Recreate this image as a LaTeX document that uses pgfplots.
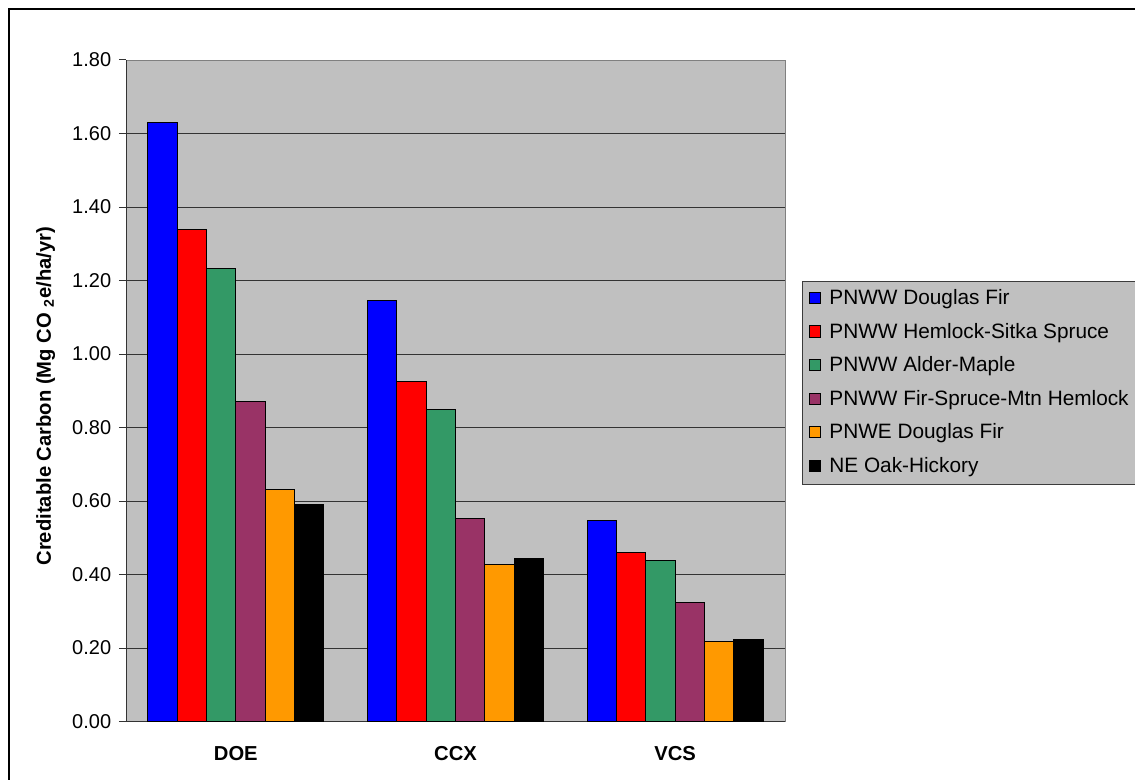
\documentclass[border=0pt]{standalone}
\usepackage{pgfplots}
\pgfplotsset{compat=1.18}
\usepackage{fontspec}
\setmainfont{Liberation Sans}

\definecolor{plotbg}{RGB}{192,192,192}
\definecolor{gridc}{RGB}{51,51,51}
\definecolor{borderc}{RGB}{128,128,128}
\definecolor{legendc}{RGB}{60,60,60}
\definecolor{sDF}{RGB}{0,0,255}
\definecolor{sHS}{RGB}{255,0,0}
\definecolor{sAM}{RGB}{51,153,102}
\definecolor{sFS}{RGB}{153,51,102}
\definecolor{sED}{RGB}{255,153,0}
\definecolor{sOH}{RGB}{0,0,0}

\newcommand\tickfont{\fontsize{10}{12}\selectfont}
\newcommand\labelfont{\fontsize{10.1}{12}\selectfont\bfseries}
\newcommand\legfont{\fontsize{10.4}{12.4}\selectfont}

\begin{document}
\begin{tikzpicture}
% page area and outer chart frame
\useasboundingbox (0pt,0pt) rectangle (567.5pt,-390pt);
\clip (0pt,0pt) rectangle (567.5pt,-390pt);
\draw[line width=0.7pt] (4.5pt,-4.5pt) rectangle (620pt,-420pt);

\begin{axis}[
  at={(63pt,-360.75pt)}, anchor=south west,
  scale only axis, width=329.5pt, height=330.75pt,
  xmin=-0.5, xmax=2.5, ymin=0, ymax=1.8,
  axis x line*=bottom, axis y line*=left,
  axis line style={gridc, line width=0.5pt},
  axis background/.style={fill=plotbg, draw=borderc, line width=0.4pt},
  tick align=outside,
  ytick={0,0.2,0.4,0.6,0.8,1.0,1.2,1.4,1.6,1.8},
  major tick length=3.5pt, minor tick length=3.5pt,
  tick style={gridc, line width=0.5pt},
  extra y ticks={0.2,0.4,0.6,0.8,1.0,1.2,1.4,1.6},
  extra y tick labels={},
  extra y tick style={grid=major, major tick length=0pt},
  major grid style={gridc, line width=0.5pt},
  /pgf/number format/.cd, fixed, fixed zerofill, precision=2, assume math mode=true,
  /pgfplots/.cd,
  yticklabel style={font=\tickfont, xshift=-0.4pt},
  xtick={0,1,2},
  xticklabels={DOE,CCX,VCS},
  xtick style={draw=none},
  minor xtick={-0.5,0.5,1.5,2.5},
  minor tick style={gridc, line width=0.5pt},
  xticklabel style={font=\labelfont, yshift=-5.5pt},
  ylabel={Creditable Carbon (Mg CO \textsubscript{2}e/ha/yr)},
  every axis y label/.style={at={(axis description cs:-0.122,0.492)}, rotate=90, anchor=center, font=\labelfont},
  ybar, bar width=0.13333,
  every axis plot/.append style={draw=black, line width=0.5pt},
  legend style={
    at={(axis description cs:1.0253,0.666)}, anchor=north west,
    fill=plotbg, draw=legendc, line width=0.5pt,
    font=\legfont,
    inner xsep=3.5pt, inner ysep=2.75pt,
    row sep=4.9pt,
    cells={anchor=west},
    nodes={inner sep=1pt, text height=7.8pt, text depth=2.1pt},
    /tikz/every odd column/.append style={column sep=3pt},
  },
  legend image code/.code={\draw[#1, line width=0.5pt] (0pt,-2.3pt) rectangle (5.6pt,3.3pt);},
  legend cell align=left,
]
\addplot[fill=sDF, bar shift=-0.33333] coordinates {(0,1.630) (1,1.145) (2,0.546)};
\addplot[fill=sHS, bar shift=-0.2]     coordinates {(0,1.340) (1,0.924) (2,0.459)};
\addplot[fill=sAM, bar shift=-0.06667] coordinates {(0,1.232) (1,0.848) (2,0.439)};
\addplot[fill=sFS, bar shift=0.06667]  coordinates {(0,0.870) (1,0.553) (2,0.324)};
\addplot[fill=sED, bar shift=0.2]      coordinates {(0,0.631) (1,0.427) (2,0.218)};
\addplot[fill=sOH, bar shift=0.33333]  coordinates {(0,0.590) (1,0.444) (2,0.224)};
\legend{PNWW Douglas Fir, PNWW Hemlock-Sitka Spruce, PNWW Alder-Maple, PNWW Fir-Spruce-Mtn Hemlock, PNWE Douglas Fir, NE Oak-Hickory}
\end{axis}
\end{tikzpicture}
\end{document}
